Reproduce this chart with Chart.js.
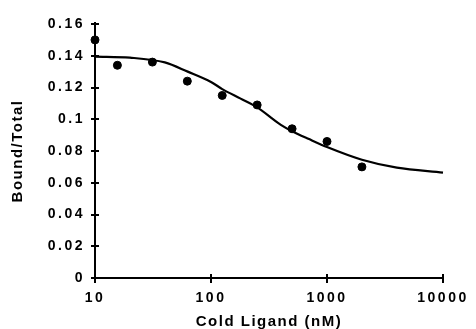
<!DOCTYPE html>
<html>
<head>
<meta charset="utf-8">
<script src="https://cdn.jsdelivr.net/npm/chart.js@4"></script>
<style>
  html, body { margin: 0; padding: 0; background: #fff; }
  #wrap { width: 476px; height: 329px; }
</style>
</head>
<body>
<div id="wrap"><canvas id="binding"></canvas></div>
<script>
'use strict';

// measured points (cold ligand nM -> bound/total)
const doses = [10, 15.6, 31.25, 62.5, 125, 250, 500, 1000, 2000];
const bound = [0.150, 0.134, 0.136, 0.124, 0.115, 0.109, 0.094, 0.086, 0.070];

// fitted curve
const fitX = [10, 20, 40, 63, 100, 125, 180, 250, 400, 500, 700, 1000, 2000, 4000, 10000];
const fitY = [0.1395, 0.1388, 0.1358, 0.130, 0.1235, 0.119, 0.113, 0.1075, 0.0965, 0.0925, 0.0875, 0.0825, 0.0745, 0.0695, 0.0664];

const xTicks = [10, 100, 1000, 10000];
const yTicks = [0, 0.02, 0.04, 0.06, 0.08, 0.1, 0.12, 0.14, 0.16];

const fontFam = '"Liberation Sans", Arial, Helvetica, sans-serif';

// spacing: titles a bit tighter, tick numbers wider
const spacing = {
  id: 'spacing',
  beforeDraw(chart) { chart.ctx.letterSpacing = '1.5px'; },
  beforeDatasetsDraw(chart) { chart.ctx.letterSpacing = '2.5px'; },
  afterDraw(chart) { chart.ctx.letterSpacing = '0px'; }
};

// tick marks crossing the axis lines
const crossTicks = {
  id: 'crossTicks',
  afterDraw(chart) {
    const ctx = chart.ctx;
    const xs = chart.scales.x, ys = chart.scales.y;
    const area = chart.chartArea;
    ctx.save();
    ctx.strokeStyle = '#000';
    ctx.lineWidth = 2;
    ctx.beginPath();
    yTicks.forEach(v => {
      const py = Math.round(ys.getPixelForValue(v));
      ctx.moveTo(area.left - 4, py);
      ctx.lineTo(area.left + 4, py);
    });
    xTicks.forEach(v => {
      const px = Math.round(xs.getPixelForValue(v));
      ctx.moveTo(px, area.bottom - 4);
      ctx.lineTo(px, area.bottom + 5);
    });
    // axis runs a touch past the top tick
    ctx.moveTo(area.left, area.top);
    ctx.lineTo(area.left, area.top - 2);
    ctx.stroke();
    ctx.restore();
  }
};

let ctxBinding = document.getElementById('binding').getContext('2d');

new Chart(ctxBinding, {
  type: 'scatter',
  data: {
    datasets: [
      {
        type: 'line',
        data: fitX.map((x, i) => ({ x: x, y: fitY[i] })),
        borderColor: '#000',
        borderWidth: 2.2,
        pointRadius: 0,
        cubicInterpolationMode: 'monotone',
        fill: false,
        clip: false
      },
      {
        data: doses.map((x, i) => ({ x: x, y: bound[i] })),
        backgroundColor: '#000',
        borderColor: '#000',
        pointRadius: 4,
        pointHoverRadius: 4,
        clip: false
      }
    ]
  },
  options: {
    responsive: true,
    maintainAspectRatio: false,
    animation: false,
    layout: { padding: { top: 24, right: 33, left: 0, bottom: 0 } },
    plugins: { legend: { display: false }, tooltip: { enabled: false } },
    scales: {
      x: {
        type: 'logarithmic',
        min: 10,
        max: 10000,
        afterBuildTicks: s => { s.ticks = xTicks.map(v => ({ value: v })); },
        afterFit: s => { s.height = 51; },
        grid: { display: false, drawTicks: false },
        border: { display: true, color: '#000', width: 2 },
        ticks: {
          z: 1,
          padding: 12,
          maxRotation: 0,
          autoSkip: false,
          color: '#000',
          font: { family: fontFam, size: 14, weight: 'bold' },
          callback: v => String(v)
        },
        title: {
          display: true,
          text: 'Cold Ligand (nM)',
          color: '#000',
          font: { family: fontFam, size: 15, weight: 'bold', lineHeight: 1 },
          padding: { top: 0, bottom: 0 }
        }
      },
      y: {
        min: 0,
        max: 0.16,
        afterBuildTicks: s => { s.ticks = yTicks.map(v => ({ value: v })); },
        afterFit: s => { s.width = 95; },
        grid: { display: false, drawTicks: false },
        border: { display: true, color: '#000', width: 2 },
        ticks: {
          z: 1,
          padding: 10,
          color: '#000',
          font: { family: fontFam, size: 14, weight: 'bold' },
          callback: v => String(Number(v.toFixed(2)))
        },
        title: {
          display: true,
          text: 'Bound/Total',
          color: '#000',
          font: { family: fontFam, size: 15, weight: 'bold' },
          padding: { top: 9, bottom: 0 }
        }
      }
    }
  },
  plugins: [spacing, crossTicks]
});
</script>
</body>
</html>
